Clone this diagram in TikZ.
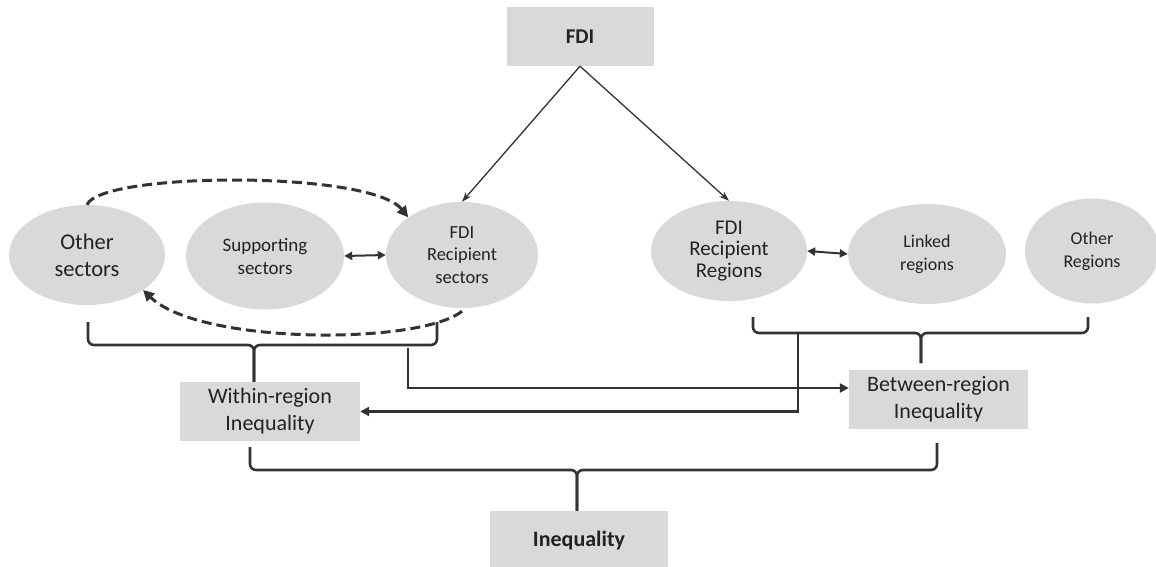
\documentclass[tikz,border=0pt]{standalone}
\usepackage{fontspec}
\setmainfont{Carlito}
\usetikzlibrary{shapes.geometric,arrows.meta}
\definecolor{boxgray}{HTML}{D9D9D9}
\definecolor{linec}{HTML}{333333}
\definecolor{txt}{HTML}{222222}
\begin{document}
\begin{tikzpicture}[x=1pt,y=-1pt,
 ell/.style={ellipse,fill=boxgray,inner sep=0pt,align=center,text=txt},
 rect/.style={rectangle,fill=boxgray,inner sep=0pt,align=center,text=txt},
 brace/.style={draw=linec,line width=2.6pt,rounded corners=6pt},
 thickarr/.style={draw=linec,line width=2.6pt,-{Triangle[length=9pt,width=9pt]}},
 thinarr/.style={draw=linec,line width=1.3pt,-{Stealth[length=10pt,width=7pt]}},
 dblarr/.style={draw=linec,line width=2pt,{Triangle[length=8pt,width=8pt]}-{Triangle[length=8pt,width=8pt]}},
 dasharr/.style={draw=linec,line width=3pt,dash pattern=on 10pt off 5pt,-{Triangle[length=11pt,width=11pt]}}
]
\useasboundingbox (0,0) rectangle (1156,567);
\clip (0,0) rectangle (1156,567);

% boxes
\node[rect,minimum width=147pt,minimum height=59pt,font=\bfseries\fontsize{21}{25}\selectfont] (fdi) at (580,36.5) {FDI};
\node[rect,minimum width=180pt,minimum height=59pt,font=\fontsize{22}{27}\selectfont] (within) at (270,411.5) {Within-region\\Inequality};
\node[rect,minimum width=179pt,minimum height=59pt,font=\fontsize{22}{27}\selectfont] (between) at (938.5,399.5) {Between-region\\Inequality};
\node[rect,minimum width=178pt,minimum height=60pt,font=\bfseries\fontsize{22}{26}\selectfont] (ineq) at (579,541) {Inequality};

% ellipses
\node[ell,minimum width=156pt,minimum height=100pt,font=\fontsize{22.5}{27}\selectfont] (oth) at (87,255) {Other\\sectors};
\node[ell,minimum width=158pt,minimum height=107pt,font=\fontsize{19}{23}\selectfont] (sup) at (265,256) {Supporting\\sectors};
\node[ell,minimum width=152pt,minimum height=106pt,font=\fontsize{18.5}{22.5}\selectfont] (recs) at (462,255) {FDI\\Recipient\\sectors};
\node[ell,minimum width=156pt,minimum height=100pt,font=\fontsize{21}{21.5}\selectfont] (regs) at (729,251) {FDI\\Recipient\\Regions};
\node[ell,minimum width=158pt,minimum height=100pt,font=\fontsize{18}{23}\selectfont] (linked) at (927,254) {Linked\\regions};
\node[ell,minimum width=134pt,minimum height=105pt,font=\fontsize{18}{23}\selectfont] (othr) at (1092,251) {Other\\Regions};

% FDI arrows
\draw[thinarr] (fdi.south) -- (recs.north);
\draw[thinarr] (fdi.south) -- (regs.north);

% double arrows
\draw[dblarr] (sup.east) -- (recs.west);
\draw[dblarr] (regs.east) -- (linked.west);

% dashed arrows
\draw[dasharr] (oth.north) .. controls (100,172) and (370,170) .. (recs.145);
\draw[dasharr] ([yshift=-3pt]recs.south) .. controls (420,345) and (200,345) .. (oth.-32);

% braces
\draw[brace] (88,322) |- (254,345) -- (within.north -| 254,0);
\draw[brace] (437,322) |- (254,345) -- (within.north -| 254,0);
\draw[brace] (753,317) |- (921,333) -- (921,363);
\draw[brace] (1088,317) |- (921,333) -- (921,363);
\draw[brace] (250,447) |- (577,470) -- (ineq.north -| 577,0);
\draw[brace] (937,443) |- (577,470) -- (ineq.north -| 577,0);

% cross arrows
\draw[thickarr] (798,333) |- (within.east);
\draw[thickarr] (408,348) |- ([yshift=11.5pt]between.west);
\end{tikzpicture}
\end{document}
